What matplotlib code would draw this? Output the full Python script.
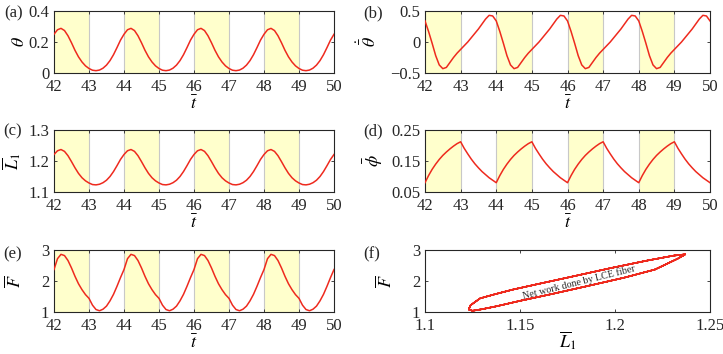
import matplotlib
matplotlib.use('Agg')
import matplotlib.pyplot as plt
import numpy as np

plt.rcParams['font.family'] = 'serif'
plt.rcParams['font.serif'] = ['Liberation Serif', 'STIXGeneral', 'DejaVu Serif']
plt.rcParams['mathtext.fontset'] = 'stix'

# time grid of the sampled curves
t = np.linspace(42, 50, 81)

# values, 0.1 apart (four identical cycles of 2 units)
theta = [0.250, 0.279, 0.288, 0.274, 0.240, 0.195, 0.146, 0.104, 0.071, 0.046,
         0.029, 0.018, 0.015, 0.019, 0.031, 0.051, 0.080, 0.118, 0.164, 0.212,
         0.250, 0.279, 0.288, 0.274, 0.240, 0.195, 0.146, 0.104, 0.071, 0.046,
         0.029, 0.018, 0.015, 0.019, 0.031, 0.051, 0.080, 0.118, 0.164, 0.212,
         0.250, 0.279, 0.288, 0.274, 0.240, 0.195, 0.146, 0.104, 0.071, 0.046,
         0.029, 0.018, 0.015, 0.019, 0.031, 0.051, 0.080, 0.118, 0.164, 0.212,
         0.250, 0.279, 0.288, 0.274, 0.240, 0.195, 0.146, 0.104, 0.071, 0.046,
         0.029, 0.018, 0.015, 0.019, 0.031, 0.051, 0.080, 0.118, 0.164, 0.212,
         0.250]

theta_dot = [0.34, 0.17, -0.02, -0.22, -0.37, -0.43, -0.41, -0.33, -0.25, -0.18,
             -0.12, -0.06, 0.00, 0.07, 0.14, 0.21, 0.29, 0.37, 0.43, 0.42,
             0.34, 0.17, -0.02, -0.22, -0.37, -0.43, -0.41, -0.33, -0.25, -0.18,
             -0.12, -0.06, 0.00, 0.07, 0.14, 0.21, 0.29, 0.37, 0.43, 0.42,
             0.34, 0.17, -0.02, -0.22, -0.37, -0.43, -0.41, -0.33, -0.25, -0.18,
             -0.12, -0.06, 0.00, 0.07, 0.14, 0.21, 0.29, 0.37, 0.43, 0.42,
             0.34, 0.17, -0.02, -0.22, -0.37, -0.43, -0.41, -0.33, -0.25, -0.18,
             -0.12, -0.06, 0.00, 0.07, 0.14, 0.21, 0.29, 0.37, 0.43, 0.42,
             0.34]

L1 = [1.221, 1.233, 1.237, 1.231, 1.217, 1.198, 1.178, 1.160, 1.146, 1.136,
      1.129, 1.124, 1.123, 1.125, 1.130, 1.138, 1.150, 1.166, 1.185, 1.205,
      1.221, 1.233, 1.237, 1.231, 1.217, 1.198, 1.178, 1.160, 1.146, 1.136,
      1.129, 1.124, 1.123, 1.125, 1.130, 1.138, 1.150, 1.166, 1.185, 1.205,
      1.221, 1.233, 1.237, 1.231, 1.217, 1.198, 1.178, 1.160, 1.146, 1.136,
      1.129, 1.124, 1.123, 1.125, 1.130, 1.138, 1.150, 1.166, 1.185, 1.205,
      1.221, 1.233, 1.237, 1.231, 1.217, 1.198, 1.178, 1.160, 1.146, 1.136,
      1.129, 1.124, 1.123, 1.125, 1.130, 1.138, 1.150, 1.166, 1.185, 1.205,
      1.221]

phi = [0.080, 0.103, 0.123, 0.140, 0.155, 0.168, 0.179, 0.189, 0.198, 0.206,
       0.212, 0.191, 0.173, 0.156, 0.141, 0.128, 0.116, 0.106, 0.096, 0.088,
       0.080, 0.103, 0.123, 0.140, 0.155, 0.168, 0.179, 0.189, 0.198, 0.206,
       0.212, 0.191, 0.173, 0.156, 0.141, 0.128, 0.116, 0.106, 0.096, 0.088,
       0.080, 0.103, 0.123, 0.140, 0.155, 0.168, 0.179, 0.189, 0.198, 0.206,
       0.212, 0.191, 0.173, 0.156, 0.141, 0.128, 0.116, 0.106, 0.096, 0.088,
       0.080, 0.103, 0.123, 0.140, 0.155, 0.168, 0.179, 0.189, 0.198, 0.206,
       0.212, 0.191, 0.173, 0.156, 0.141, 0.128, 0.116, 0.106, 0.096, 0.088,
       0.080]

F = [2.37, 2.72, 2.86, 2.82, 2.66, 2.42, 2.15, 1.91, 1.72, 1.56,
     1.44, 1.22, 1.08, 1.04, 1.09, 1.19, 1.36, 1.57, 1.83, 2.11,
     2.37, 2.72, 2.86, 2.82, 2.66, 2.42, 2.15, 1.91, 1.72, 1.56,
     1.44, 1.22, 1.08, 1.04, 1.09, 1.19, 1.36, 1.57, 1.83, 2.11,
     2.37, 2.72, 2.86, 2.82, 2.66, 2.42, 2.15, 1.91, 1.72, 1.56,
     1.44, 1.22, 1.08, 1.04, 1.09, 1.19, 1.36, 1.57, 1.83, 2.11,
     2.37, 2.72, 2.86, 2.82, 2.66, 2.42, 2.15, 1.91, 1.72, 1.56,
     1.44, 1.22, 1.08, 1.04, 1.09, 1.19, 1.36, 1.57, 1.83, 2.11,
     2.37]

# light-on intervals (yellow bands)
on_intervals = [(42, 43), (44, 45), (46, 47), (48, 49)]

red = '#ee2a1e'
band = '#ffffcc'
fs = 12

fig = plt.figure(figsize=(7.23, 3.54), dpi=100)

W, H = 723.0, 354.0
def box(x0, y0, x1, y1):
    return [x0 / W, 1 - y1 / H, (x1 - x0) / W, (y1 - y0) / H]

pos = {
    'a': box(54, 11, 334, 73),
    'b': box(425, 11, 710, 73),
    'c': box(54, 130, 334, 192),
    'd': box(425, 130, 710, 192),
    'e': box(54, 250, 334, 312),
    'f': box(425, 250, 710, 312),
}

def style(ax):
    ax.tick_params(direction='in', length=2.5, width=0.6, top=True, right=True,
                   labelsize=fs, colors='#262626')
    ax.tick_params(axis='x', pad=4)
    ax.tick_params(axis='y', pad=3.5)
    for s in ax.spines.values():
        s.set_linewidth(0.8)
        s.set_color('#262626')

def time_panel(key, y, ylim, yticks, yticklabels, ylabel, ylx):
    ax = fig.add_axes(pos[key])
    for a, b in on_intervals:
        ax.axvspan(a, b, facecolor=band, edgecolor='none', zorder=0)
    for x in range(43, 50):
        ax.axvline(x, color='#c8c8c8', lw=0.8, zorder=1)
    ax.plot(t, y, color=red, lw=1.1, zorder=3)
    ax.set_xlim(42, 50)
    ax.set_ylim(*ylim)
    ax.set_xticks(range(42, 51))
    ax.set_yticks(yticks)
    ax.set_yticklabels(yticklabels)
    ax.set_xlabel(r'$\bar{t}$', fontsize=fs + 1)
    ax.xaxis.set_label_coords(0.5, -0.5)
    ax.xaxis.label.set_va('center')
    ax.set_ylabel(ylabel, fontsize=fs + 1)
    ax.yaxis.set_label_coords(ylx, 0.5)
    ax.yaxis.label.set_va('center')
    style(ax)
    return ax

time_panel('a', theta, (0, 0.4), [0, 0.2, 0.4], ['0', '0.2', '0.4'],
           r'$\theta$', -0.125)
time_panel('b', theta_dot, (-0.5, 0.5), [-0.5, 0, 0.5], ['\u22120.5', '0', '0.5'],
           r'$\dot{\bar{\theta}}$', -0.2)
time_panel('c', L1, (1.1, 1.3), [1.1, 1.2, 1.3], ['1.1', '1.2', '1.3'],
           r'$\overline{L}_1$', -0.15)
time_panel('d', phi, (0.05, 0.25), [0.05, 0.15, 0.25], ['0.05', '0.15', '0.25'],
           r'$\bar{\phi}$', -0.18)
time_panel('e', F, (1, 3), [1, 2, 3], ['1', '2', '3'],
           r'$\overline{F}$', -0.14)

# (f) force vs length loop
ax = fig.add_axes(pos['f'])
ax.plot(L1, F, color=red, lw=1.1)
ax.set_xlim(1.1, 1.25)
ax.set_ylim(1, 3)
ax.set_xticks([1.1, 1.15, 1.2, 1.25])
ax.set_xticklabels(['1.1', '1.15', '1.2', '1.25'])
ax.set_yticks([1, 2, 3])
ax.set_xlabel(r'$\overline{L}_1$', fontsize=fs + 1)
ax.xaxis.set_label_coords(0.5, -0.46)
ax.xaxis.label.set_va('center')
ax.set_ylabel(r'$\overline{F}$', fontsize=fs + 1)
ax.yaxis.set_label_coords(-0.14, 0.5)
ax.yaxis.label.set_va('center')
ax.text(1.181, 1.96, 'Net work done by LCE fiber', rotation=14, fontsize=7.2,
        ha='center', va='center', color='#262626')
style(ax)

# panel letters
for lab, x, y in [('(a)', 4, 13), ('(b)', 363, 13), ('(c)', 3, 131),
                  ('(d)', 363, 131), ('(e)', 3, 254), ('(f)', 363, 254)]:
    fig.text(x / W, 1 - y / H, lab, fontsize=fs, ha='left', va='center', color='#262626')

fig.savefig('out.png', dpi=100)
